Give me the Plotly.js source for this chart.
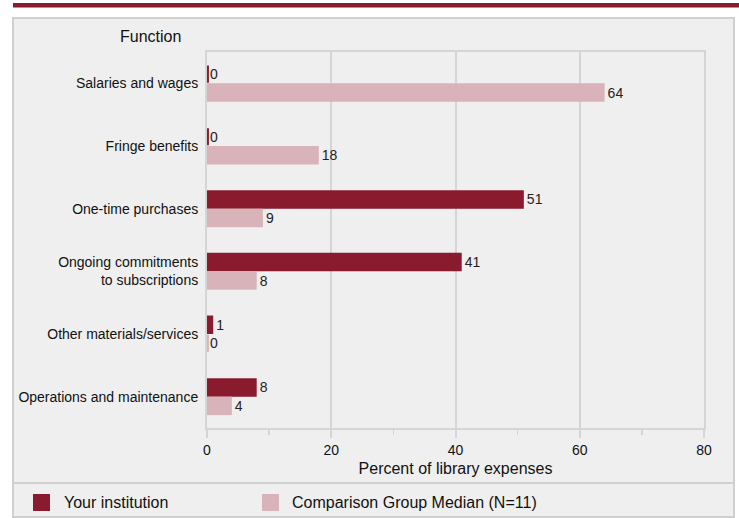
<!DOCTYPE html>
<html>
<head>
<meta charset="utf-8">
<script src="https://cdn.plot.ly/plotly-3.0.1.min.js"></script>
<style>html,body{margin:0;padding:0;background:#fff;}#chart{width:739px;height:518px;}</style>
</head>
<body>
<div id="chart"></div>
<script>
const categories = ["Salaries and wages", "Fringe benefits", "One-time purchases", "Ongoing commitments<br>to subscriptions", "Other materials/services", "Operations and maintenance"];
const yourInstitution = [0, 0, 51, 41, 1, 8];
const comparisonMedian = [64, 18, 9, 8, 0, 4];
const seriesNames = ["Your institution", "Comparison Group Median (N=11)"];
const xTicks = [0, 20, 40, 60, 80];

const DARK = "#8A1A2D", PINK = "#D8B3B9", GRID = "#D5D5D5", FONT = "Liberation Sans, Arial, sans-serif";
const W = 739, H = 518, L = 207, R = 35, T = 52, B = 90;
const pw = W - L - R, ph = H - T - B;
const px = x => (x - L) / pw;
const py = y => (H - B - y) / ph;

const traces = [
  {type: "bar", orientation: "h", name: seriesNames[0], y: categories, x: yourInstitution,
   marker: {color: DARK}, text: yourInstitution.map(String), textposition: "outside", cliponaxis: false,
   textfont: {family: FONT, size: 14, color: "#222"}, showlegend: false, hoverinfo: "x"},
  {type: "bar", orientation: "h", name: seriesNames[1], y: categories, x: comparisonMedian,
   marker: {color: PINK}, text: comparisonMedian.map(String), textposition: "outside", cliponaxis: false,
   textfont: {family: FONT, size: 14, color: "#222"}, showlegend: false, hoverinfo: "x"}
];

const gap = 0.41, bw = (1 - gap) / 2;
const shapes = [
  {type: "rect", xref: "paper", yref: "paper", x0: px(13), x1: px(734), y0: py(18), y1: py(517), fillcolor: "#EFEFEF", line: {color: "#D0D0D0", width: 2}, layer: "below"},
  {type: "line", xref: "paper", yref: "paper", x0: px(13), x1: px(734), y0: py(483), y1: py(483), line: {color: "#D0D0D0", width: 2}, layer: "below"},
  {type: "rect", xref: "paper", yref: "paper", x0: px(13), x1: px(739), y0: py(3), y1: py(7.5), fillcolor: DARK, line: {width: 0}},
  {type: "rect", xref: "paper", yref: "paper", x0: px(33), x1: px(50), y0: py(494), y1: py(511), fillcolor: DARK, line: {width: 0}},
  {type: "rect", xref: "paper", yref: "paper", x0: px(262), x1: px(279), y0: py(494), y1: py(511), fillcolor: PINK, line: {width: 0}}
];
// thin marks for zero-valued bars
[yourInstitution, comparisonMedian].forEach((arr, s) => {
  arr.forEach((v, i) => {
    if (v === 0) {
      const y0 = s === 0 ? i - bw : i;
      shapes.push({type: "line", xref: "x", yref: "y", x0: 0.15, x1: 0.15, y0: y0 + 0.01, y1: y0 + bw - 0.01,
        line: {color: s === 0 ? DARK : PINK, width: 2}});
    }
  });
});

const annotations = [
  {xref: "paper", yref: "paper", x: px(150), y: py(37), text: "Function", showarrow: false, font: {family: FONT, size: 16, color: "#111"}, xanchor: "center", yanchor: "middle"},
  {xref: "paper", yref: "paper", x: px(62), y: py(502), text: seriesNames[0], showarrow: false, font: {family: FONT, size: 16, color: "#111"}, xanchor: "left", yanchor: "middle"},
  {xref: "paper", yref: "paper", x: px(290), y: py(502), text: seriesNames[1], showarrow: false, font: {family: FONT, size: 16, color: "#111"}, xanchor: "left", yanchor: "middle"}
];

const layout = {
  width: W, height: H,
  margin: {l: L, r: R, t: T, b: B, pad: 0},
  paper_bgcolor: "#FFFFFF", plot_bgcolor: "rgba(0,0,0,0)",
  barmode: "group", bargap: gap, bargroupgap: 0,
  font: {family: FONT, size: 14, color: "#111"},
  xaxis: {range: [0, 80], tickvals: xTicks, ticktext: xTicks.map(String), showgrid: true, gridcolor: GRID, gridwidth: 2,
    zeroline: false, showline: true, linecolor: GRID, linewidth: 2, mirror: true,
    ticks: "outside", ticklen: 8, tickwidth: 2, tickcolor: GRID,
    minor: {tickvals: [10, 30, 50, 70], ticks: "outside", ticklen: 5, tickwidth: 1.5, tickcolor: GRID, showgrid: false},
    tickfont: {family: FONT, size: 14, color: "#111"},
    title: {text: "Percent of library expenses", font: {family: FONT, size: 16, color: "#111"}, standoff: 6},
    fixedrange: true},
  yaxis: {type: "category", autorange: "reversed", showgrid: false, zeroline: false,
    showline: true, linecolor: GRID, linewidth: 2, mirror: true, ticks: "",
    ticklabelstandoff: 4, tickfont: {family: FONT, size: 14, color: "#111"}, fixedrange: true},
  shapes: shapes,
  annotations: annotations
};

Plotly.newPlot("chart", traces, layout, {displayModeBar: false, staticPlot: true});
</script>
</body>
</html>
